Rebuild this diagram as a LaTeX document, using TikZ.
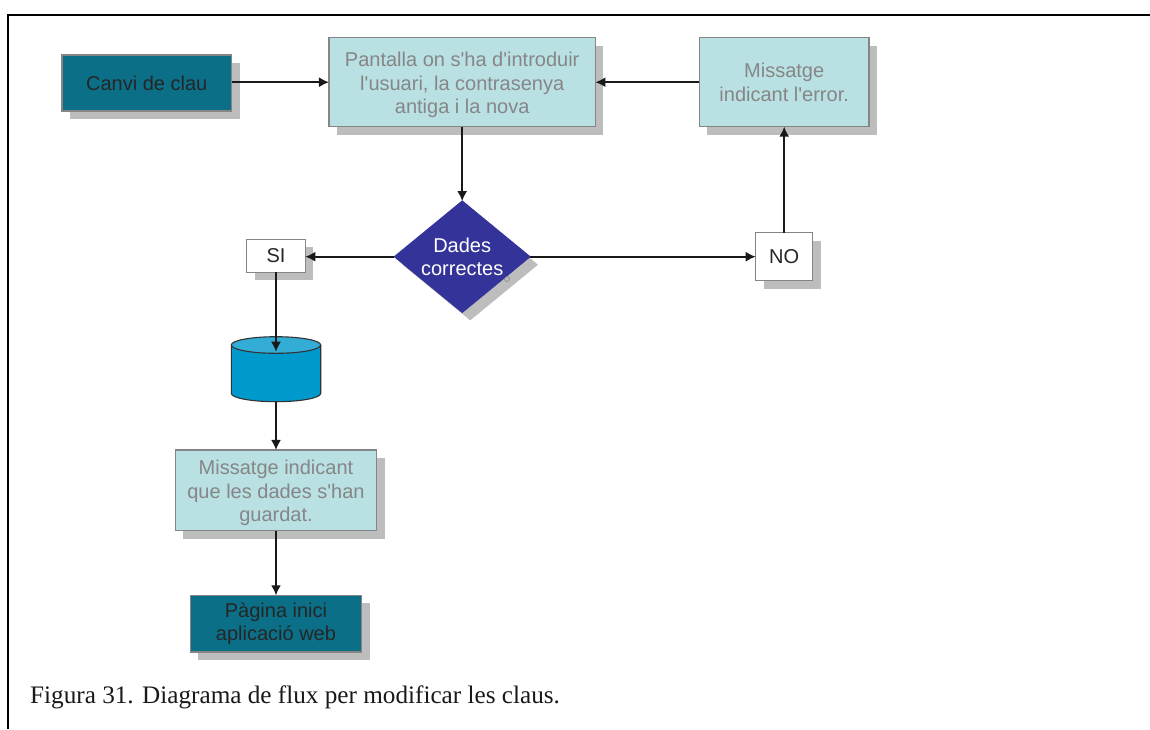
\documentclass[tikz,border=0pt]{standalone}
\usepackage{fontspec}
\setmainfont{Liberation Serif}
\newfontfamily\boxfont{Liberation Sans}
\usetikzlibrary{shapes.geometric,shadows,arrows.meta}
\definecolor{tealbox}{HTML}{0A6F87}
\definecolor{palebox}{HTML}{B9E0E3}
\definecolor{edgegray}{HTML}{858585}
\definecolor{shadegray}{HTML}{BDBDBD}
\definecolor{textgray}{HTML}{868686}
\definecolor{navy}{HTML}{333399}
\definecolor{cylblue}{HTML}{0099CC}
\definecolor{cyltop}{HTML}{33ADD6}
\newcommand{\lowerline}{\rule{0pt}{20.5pt}}
\tikzset{
  base/.style={draw=edgegray,line width=1.1pt,inner sep=0pt,outer sep=0pt,align=center,
    font=\boxfont\fontsize{20}{23.5}\selectfont,
    general shadow={fill=shadegray,shadow xshift=8pt,shadow yshift=-8pt}},
  tealnode/.style={base,rectangle,fill=tealbox,text=black!85},
  palenode/.style={base,rectangle,fill=palebox,text=textgray},
  whitenode/.style={base,rectangle,fill=white,text=black!85},
  decisionnode/.style={base,diamond,fill=navy,draw=navy,text=white,aspect=1.22},
  flow/.style={black!90,line width=1.6pt,-{Latex[length=10pt,width=10pt]}},
  cylline/.style={draw=black!80,line width=1.1pt}
}
\begin{document}
\begin{tikzpicture}[x=1pt,y=-1pt]
\useasboundingbox (0,0) rectangle (1150,729);
\fill[white] (0,0) rectangle (1150,729);
\draw[black,line width=2pt] (8,729) -- (8,15) -- (1150,15);
\node[tealnode,minimum width=169.5pt,minimum height=56pt] (canvi) at (146.75,83) {Canvi de clau};
\node[palenode,minimum width=266.5pt,minimum height=89pt] (pant) at (462.2,82.2) {\lowerline Pantalla on s'ha d'introduir\\l'usuari, la contrasenya\\antiga i la nova};
\node[palenode,minimum width=169.6pt,minimum height=89pt] (err) at (784.2,82.2) {Missatge\\indicant l'error.};
\node[decisionnode,minimum width=135.5pt,minimum height=111.3pt] (dec) at (462.2,256.7) {Dades\\correctes};
\draw[gray,line width=0.5pt] (507,279) circle (2.5pt);
\node[whitenode,minimum width=58.7pt,minimum height=33pt] (si) at (276,255.8) {SI};
\node[whitenode,minimum width=57.1pt,minimum height=48pt] (no) at (784.2,256.7) {NO};
\node[inner sep=0pt,outer sep=0pt,minimum width=89.4pt,minimum height=65pt] (cyl) at (276,369.2) {};
\fill[cylblue] (cyl.north west) ++(0,8.3) -- ++(0,48.4) arc[start angle=180,end angle=360,x radius=44.7,y radius=-8.3] -- ++(0,-48.4) -- cycle;
\draw[cylline] (cyl.north west) ++(0,8.3) -- ++(0,48.4) arc[start angle=180,end angle=360,x radius=44.7,y radius=-8.3] -- ++(0,-48.4);
\draw[cylline,fill=cyltop] (276,345) ellipse[x radius=44.7,y radius=8.3];
\coordinate (cylin) at (276,351.7);
\node[palenode,minimum width=201.8pt,minimum height=80.7pt] (msg) at (276,490.3) {\lowerline Missatge indicant\\que les dades s'han\\guardat.};
\node[tealnode,minimum width=171.8pt,minimum height=56.7pt] (pag) at (276,623.6) {Pàgina inici\\aplicació web};
\node[anchor=base west,inner sep=0pt,font=\fontsize{25.2}{30}\selectfont,text=black!90] (cap) at (30,703) {Figura 31. Diagrama de flux per modificar les claus.};
\draw[flow] (canvi.east |- pant.west) -- (pant.west);
\draw[flow] (err.west) -- (pant.east);
\draw[flow] (pant.south) -- (dec.north);
\draw[flow] (dec.west) -- (dec.west -| si.east);
\draw[flow] (dec.east) -- (no.west);
\draw[flow] (no.north) -- (err.south);
\draw[flow] (si.south) -- (si.south |- cylin);
\draw[flow] (cyl.south -| msg.north) -- (msg.north);
\draw[flow] (msg.south) -- (pag.north);
\end{tikzpicture}
\end{document}
